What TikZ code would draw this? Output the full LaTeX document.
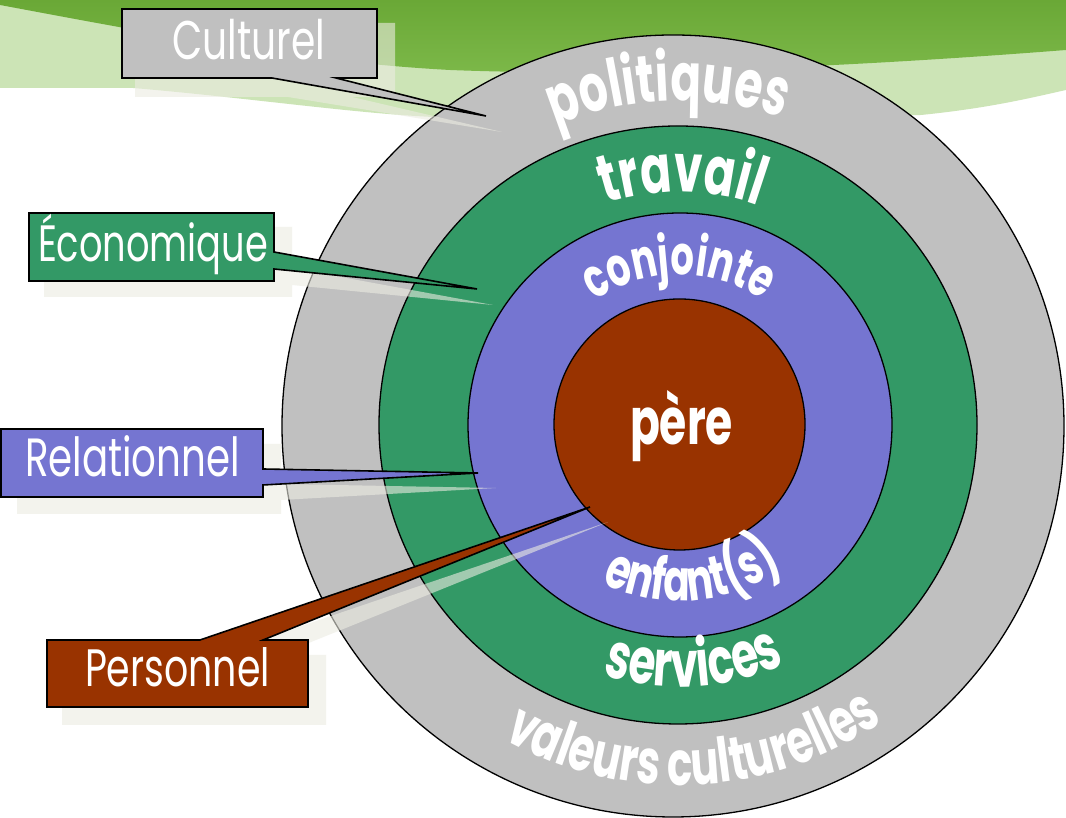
\documentclass[tikz,border=0pt]{standalone}
\usepackage{fontspec}
\setmainfont{Poppins}
\newfontfamily\boxfont[FakeStretch=0.72]{Poppins}
\newfontfamily\arcfont[FakeStretch=0.68]{Poppins}
\usetikzlibrary{decorations.text}
\definecolor{ringgray}{HTML}{C0C0C0}
\definecolor{ringgreen}{HTML}{339966}
\definecolor{ringpurple}{HTML}{7575D1}
\definecolor{ringbrown}{HTML}{993300}
\definecolor{banddark}{HTML}{7DB94A}
\definecolor{banddarktop}{HTML}{6AA836}
\definecolor{bandlight}{HTML}{CCE4B6}
\definecolor{shadowc}{HTML}{ECECE2}
\newlength\fitw
\newcommand\fitsize[4]{\settowidth\fitw{#2\fontsize{20}{24}\selectfont #3}\pgfmathsetmacro#1{20*#4/\fitw}\global\let#1#1}
\AtBeginDocument{%
\fitsize\szCul{\boxfont}{Culturel}{153}%
\fitsize\szEco{\boxfont}{Économique}{230}%
\fitsize\szRel{\boxfont}{Relationnel}{215}%
\fitsize\szPer{\boxfont}{Personnel}{185}%
\fitsize\szPere{\arcfont\bfseries}{père}{103}%
\fitsize\szPol{\arcfont\bfseries}{politiques}{232}%
\fitsize\szTra{\arcfont\bfseries}{travail}{155}%
\fitsize\szCon{\arcfont\bfseries}{conjointe}{179}%
\fitsize\szEnf{\arcfont\bfseries}{enfant(s)}{192}%
\fitsize\szSer{\arcfont\bfseries}{services}{187}%
\fitsize\szVal{\arcfont\bfseries}{valeurs culturelles}{400}%
}
\begin{document}
\begin{tikzpicture}[x=1pt,y=1pt,
  ring/.style={draw=black, line width=1.3pt},
  callout/.style={draw=black, line width=1.6pt, line join=miter},
  shadebox/.style={fill=shadowc, fill opacity=0.6, draw=none},
  boxtext/.style={text=white, anchor=base, inner sep=0pt},
  arctext/.style={decorate, decoration={text along path, text align=center, text color=white}}]
% canvas
\path[use as bounding box, fill=white] (0,0) rectangle (1066,818);
% top decorative band
\fill[bandlight] (0,818) -- (0,730) -- (133,730) .. controls (250,720) and (350,705) .. (433,701)
  .. controls (600,693) and (800,700) .. (921,703) .. controls (990,710) and (1030,720) .. (1066,728) -- (1066,818) -- cycle;
\shade[top color=banddarktop, bottom color=banddark] (0,818) -- (0,813) .. controls (150,785) and (300,756) .. (450,748)
  .. controls (650,740) and (900,755) .. (1066,768) -- (1066,818) -- cycle;
% rings
\coordinate (ctr) at (679,393);
\filldraw[ring, fill=ringgray] (673,392) circle[radius=391pt];
\filldraw[ring, fill=ringgreen] (678,393) circle[radius=299pt];
\filldraw[ring, fill=ringpurple] (680,393) circle[radius=212pt];
\filldraw[ring, fill=ringbrown] (679.5,393.5) circle[radius=125.5pt];
% ring texts
\path[arctext, decoration={text={|\arcfont\bfseries\fontsize{\szPol}{\szPol}\selectfont|politiques}}]
  ([shift={(151.9:324)}]ctr) arc[start angle=151.9, end angle=31.9, radius=324pt];
\path[arctext, decoration={text={|\arcfont\bfseries\fontsize{\szTra}{\szTra}\selectfont|travail}}]
  ([shift={(149.3:233)}]ctr) arc[start angle=149.3, end angle=29.3, radius=233pt];
\path[arctext, decoration={text={|\arcfont\bfseries\fontsize{\szCon}{\szCon}\selectfont|conjointe}}]
  ([shift={(160.2:150)}]ctr) arc[start angle=160.2, end angle=20.2, radius=150pt];
\path[arctext, decoration={text={|\arcfont\bfseries\fontsize{\szEnf}{\szEnf}\selectfont|enfant(s)}}]
  ([shift={(205.1:176)}]ctr) arc[start angle=205.1, end angle=345.1, radius=176pt];
\path[arctext, decoration={text={|\arcfont\bfseries\fontsize{\szSer}{\szSer}\selectfont|services}}]
  ([shift={(213.5:262)}]ctr) arc[start angle=213.5, end angle=333.5, radius=262pt];
\path[arctext, decoration={text={|\arcfont\bfseries\fontsize{\szVal}{\szVal}\selectfont|valeurs culturelles}}]
  ([shift={(212.7:360)}]ctr) arc[start angle=212.7, end angle=332.7, radius=360pt];
\node[boxtext, font=\arcfont\bfseries\fontsize{\szPere}{\szPere}\selectfont] (pere) at (681.5,373) {père};
% shadows
\path[shadebox] (135,795) -- (395,795) -- (395,721) -- (352,721) -- (502,686) -- (288,721) -- (135,721) -- cycle;
\path[shadebox] (44,591) -- (292,591) -- (292,550) -- (493,513) -- (292,533) -- (292,521) -- (44,521) -- cycle;
\path[shadebox] (17,374) -- (281,374) -- (281,334) -- (496,330) -- (281,318) -- (281,304) -- (17,304) -- cycle;
\path[shadebox] (62,163) -- (216,163) -- (608,296) -- (279,163) -- (326,163) -- (326,93) -- (62,93) -- cycle;
% callouts
\filldraw[callout, fill=ringgray] (122,809) -- (377,809) -- (377,740) -- (336,740) -- (486,702) -- (272,740) -- (122,740) -- cycle;
\filldraw[callout, fill=ringgreen] (29,605) -- (274,605) -- (274,566) -- (477,529) -- (274,549) -- (274,537) -- (29,537) -- cycle;
\filldraw[callout, fill=ringpurple] (1,389) -- (263,389) -- (263,349) -- (478,345) -- (263,333) -- (263,321) -- (1,321) -- cycle;
\filldraw[callout, fill=ringbrown] (47,178) -- (200,178) -- (590,311) -- (263,178) -- (308,178) -- (308,111) -- (47,111) -- cycle;
\node[boxtext, font=\boxfont\fontsize{\szCul}{\szCul}\selectfont] (cul) at (248.5,758) {Culturel};
\node[boxtext, font=\boxfont\fontsize{\szEco}{\szEco}\selectfont] (eco) at (153,556) {Économique};
\node[boxtext, font=\boxfont\fontsize{\szRel}{\szRel}\selectfont] (rel) at (132.5,341) {Relationnel};
\node[boxtext, font=\boxfont\fontsize{\szPer}{\szPer}\selectfont] (per) at (177.5,131) {Personnel};
\end{tikzpicture}
\end{document}
